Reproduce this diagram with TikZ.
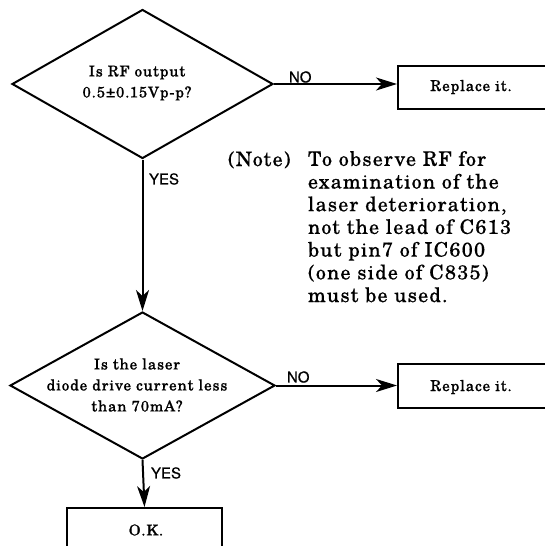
\documentclass[tikz,border=0pt]{standalone}
\usepackage{fontspec}
\setmainfont{TeX Gyre Schola}[LetterSpace=6, FakeBold=0.4]
\newfontfamily\heavyserif{TeX Gyre Schola}[LetterSpace=6, FakeBold=0.9]
\newfontfamily\labsans{TeX Gyre Heros}[FakeBold=0.6]
\usetikzlibrary{arrows.meta,shapes.geometric}
\begin{document}
\begin{tikzpicture}[x=1pt,y=-1pt,
  line width=2pt,
  dia/.style={diamond, draw, inner sep=0pt},
  box/.style={draw, rectangle, inner sep=0pt},
  lab/.style={font=\labsans\fontsize{15}{15}\selectfont, inner sep=0pt},
  arr/.style={-{Stealth[length=21pt,width=13pt,inset=6pt]}},
  qtext/.style={align=center, font=\heavyserif\fontsize{15}{21}\selectfont, inner sep=0pt},
  btext/.style={font=\heavyserif\fontsize{15}{18}\selectfont, inner sep=0pt},
  ntext/.style={align=left, font=\fontsize{20}{22.7}\selectfont, inner sep=0pt}]
\useasboundingbox (0,0) rectangle (545,546);
\clip (0,0) rectangle (545,546);

% first decision
\node[dia, minimum width=261pt, minimum height=149pt] (d1) at (142.5,84) {};
\node[qtext] (q1) at (137,83) {Is RF output\\0.5±0.15Vp-p?};
\node[box, minimum width=156pt, minimum height=43pt, anchor=west] (r1) at (397,87.5) {};
\node[btext] (r1t) at (471,87) {Replace it.};
\draw[arr] (d1.east) -- (r1.west |- d1.east);
\node[lab, anchor=west] (no1) at (288,77) {NO};

% note
\node[ntext, anchor=base west] (nl) at (227,166) {(Note)};
\node[ntext, anchor=base west] (nb) at (307,302) {To observe RF for\\examination of the\\laser deterioration,\\not the lead of C613\\but pin7 of IC600\\(one side of C835)\\must be used.};

% second decision
\node[dia, minimum width=265pt, minimum height=147pt] (d2) at (142.5,385.5) {};
\node[qtext] (q2) at (137,385) {Is the laser\\diode drive current less\\than 70mA?};
\draw[arr] (d1.south) -- (d2.north);
\node[lab, anchor=west] (yes1) at (148,179) {YES};

\node[box, minimum width=156pt, minimum height=44pt, anchor=west] (r2) at (397,386) {};
\node[btext] (r2t) at (471,387) {Replace it.};
\draw[arr] (d2.east) -- (r2.west |- d2.east);
\node[lab, anchor=west] (no2) at (286,377) {NO};

\node[box, minimum width=155pt, minimum height=46pt, anchor=north] (ok) at (144.5,507) {};
\node[btext] (okt) at (146,530) {O.K.};
\draw[arr] (d2.south) -- (ok.north);
\node[lab, anchor=west] (yes2) at (150,473) {YES};
\end{tikzpicture}
\end{document}
